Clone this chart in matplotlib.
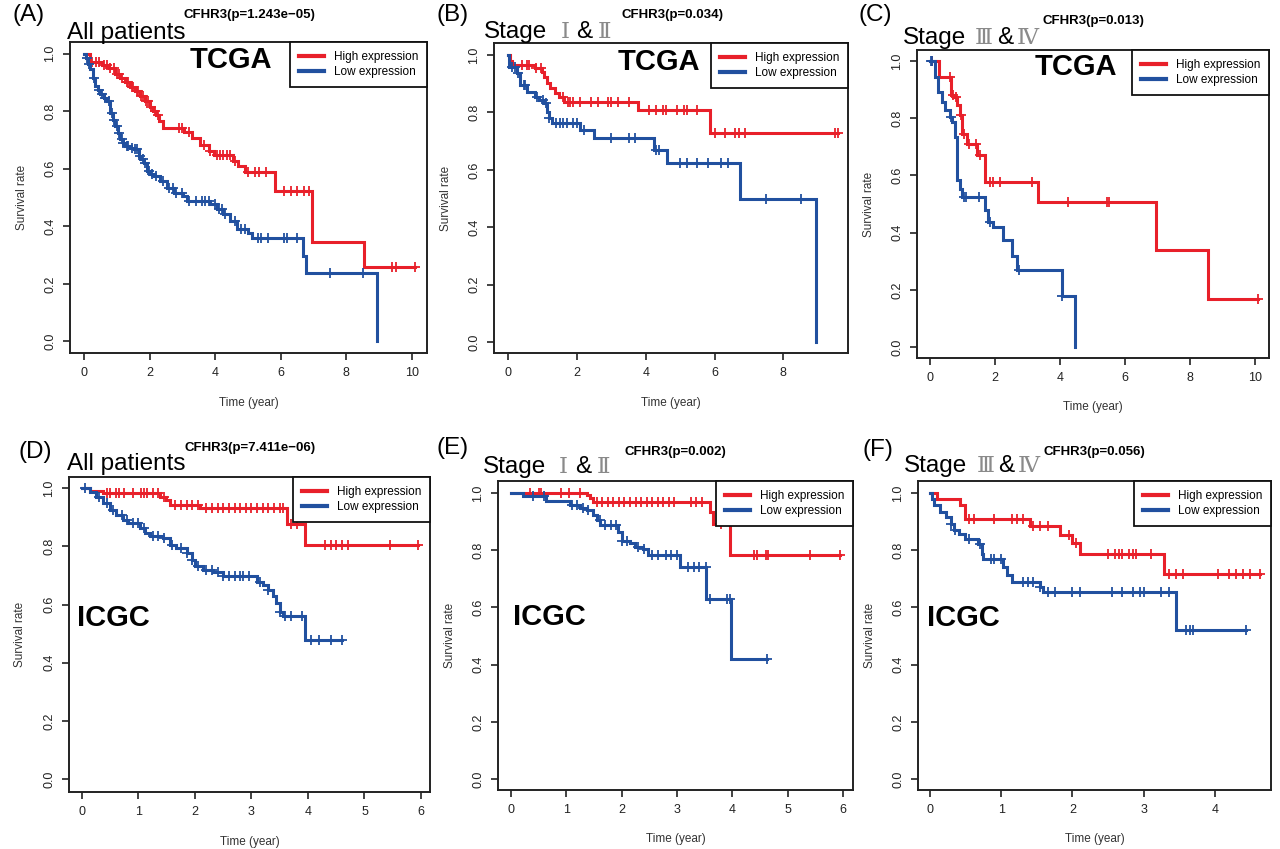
import numpy as np
import matplotlib
matplotlib.use("Agg")
import matplotlib.pyplot as plt
from matplotlib.lines import Line2D

plt.rcParams['font.family'] = ['Liberation Sans', 'DejaVu Sans', 'Noto Sans CJK SC']

RED = '#e8202a'
BLUE = '#21509f'

# ---- (A) TCGA all patients ----
a_high_t = [0, 0.19, 0.55, 0.75, 0.95, 1.1, 1.25, 1.4, 1.55, 1.7, 1.85, 2.0, 2.1, 2.2, 2.3, 2.4,
            3.05, 3.3, 3.55, 3.8, 3.95, 4.55, 4.7, 4.9, 5.83, 6.95, 8.55]
a_high_s = [1.0, 0.97, 0.96, 0.948, 0.93, 0.915, 0.9, 0.885, 0.87, 0.852, 0.835, 0.815, 0.8, 0.785, 0.765, 0.74,
            0.728, 0.707, 0.684, 0.662, 0.648, 0.628, 0.61, 0.588, 0.523, 0.346, 0.26]
a_high_c = [0.25, 0.35, 0.45, 0.6, 0.7, 0.8, 0.9, 1.0, 1.05, 1.15, 1.3, 1.35, 1.45, 1.5, 1.6, 1.65, 1.75, 1.8,
            1.9, 1.95, 2.05, 2.15, 2.25, 2.9, 3.0, 3.2, 3.65, 3.85, 4.05, 4.15, 4.25, 4.35, 4.45, 4.6, 5.0, 5.2,
            5.35, 5.55, 6.1, 6.3, 6.5, 6.7, 6.85, 9.4, 9.5, 10.08]
a_low_t = [0, 0.05, 0.12, 0.19, 0.27, 0.34, 0.42, 0.5, 0.6, 0.7, 0.8, 0.88, 0.95, 1.02, 1.1, 1.18, 1.26, 1.4,
           1.51, 1.66, 1.75, 1.82, 1.92, 2.02, 2.12, 2.32, 2.53, 2.73, 3.03, 3.13, 3.84, 4.05, 4.25, 4.45, 4.66,
           5.0, 5.11, 6.68, 6.78, 8.94]
a_low_s = [1.0, 0.985, 0.965, 0.945, 0.915, 0.887, 0.872, 0.858, 0.845, 0.835, 0.794, 0.77, 0.748, 0.725, 0.702,
           0.69, 0.679, 0.672, 0.667, 0.644, 0.632, 0.621, 0.592, 0.583, 0.575, 0.557, 0.534, 0.517, 0.505, 0.488,
           0.476, 0.459, 0.442, 0.418, 0.39, 0.378, 0.361, 0.297, 0.237, 0.0]
a_low_c = [0.08, 0.15, 0.3, 0.45, 0.55, 0.65, 0.75, 0.85, 0.92, 1.0, 1.05, 1.15, 1.2, 1.3, 1.35, 1.45, 1.55, 1.6,
           1.7, 1.8, 1.87, 1.97, 2.07, 2.2, 2.4, 2.6, 2.7, 2.8, 3.0, 3.2, 3.4, 3.6, 3.7, 3.8, 4.0, 4.1, 4.2, 4.3,
           4.6, 4.8, 4.9, 5.3, 5.4, 5.6, 6.1, 6.2, 6.5, 7.5, 8.5]

# ---- (B) TCGA stage I & II ----
b_high_t = [0, 0.05, 0.12, 0.79, 0.99, 1.03, 1.13, 1.23, 1.37, 1.47, 1.62, 3.79, 5.87]
b_high_s = [1.0, 0.98, 0.965, 0.954, 0.942, 0.925, 0.901, 0.884, 0.867, 0.855, 0.838, 0.809, 0.727]
b_high_c = [0.4, 0.55, 0.6, 0.8, 0.95, 1.6, 1.75, 1.8, 1.9, 2.1, 2.4, 2.6, 2.9, 3.0, 3.2, 3.5, 4.1, 4.3, 4.5,
            4.6, 4.9, 5.1, 5.2, 5.5, 6.0, 6.3, 6.6, 6.7, 6.9, 9.5, 9.6]
b_low_t = [0, 0.02, 0.25, 0.36, 0.55, 0.79, 0.89, 1.03, 1.13, 1.18, 1.28, 2.1, 2.49, 4.23, 4.61, 6.74, 8.95]
b_low_s = [1.0, 0.96, 0.936, 0.896, 0.872, 0.855, 0.843, 0.832, 0.803, 0.78, 0.762, 0.739, 0.71, 0.669, 0.625,
           0.5, 0.0]
b_low_c = [0.1, 0.2, 0.3, 0.45, 0.5, 0.85, 1.0, 1.1, 1.2, 1.4, 1.5, 1.6, 1.7, 1.9, 2.0, 2.2, 3.0, 3.5, 3.7,
           4.3, 4.4, 5.0, 5.2, 5.5, 5.8, 6.2, 6.4, 7.5, 8.5]

# ---- (C) TCGA stage III & IV ----
c_high_t = [0, 0.29, 0.65, 0.72, 0.82, 0.92, 0.97, 1.13, 1.44, 1.69, 3.33, 6.94, 8.54]
c_high_s = [1.0, 0.942, 0.882, 0.874, 0.845, 0.81, 0.746, 0.711, 0.67, 0.576, 0.507, 0.338, 0.169]
c_high_c = [0.05, 0.62, 0.7, 0.8, 0.95, 1.05, 1.2, 1.4, 1.55, 1.85, 1.95, 2.15, 3.15, 4.25, 5.45, 5.5, 10.1]
c_low_t = [0, 0.15, 0.26, 0.36, 0.46, 0.62, 0.67, 0.77, 0.82, 0.92, 0.97, 1.69, 1.79, 1.95, 2.26, 2.51, 2.67,
           4.05, 4.46]
c_low_s = [1.0, 0.944, 0.891, 0.857, 0.827, 0.804, 0.787, 0.734, 0.583, 0.554, 0.524, 0.478, 0.437, 0.42,
           0.373, 0.32, 0.268, 0.177, 0.0]
c_low_c = [0.02, 0.05, 0.65, 1.05, 1.1, 1.5, 1.85, 2.75, 4.05]

# ---- (D) ICGC all patients ----
d_high_t = [0, 0.14, 0.37, 1.38, 1.49, 1.55, 2.09, 3.62, 3.95]
d_high_s = [1.0, 0.991, 0.983, 0.971, 0.96, 0.943, 0.931, 0.878, 0.803]
d_high_c = [0.45, 0.5, 0.6, 0.65, 0.75, 0.9, 1.05, 1.1, 1.15, 1.25, 1.35, 1.45, 1.65, 1.75, 1.85, 1.95, 2.05,
            2.2, 2.3, 2.4, 2.5, 2.6, 2.7, 2.8, 2.9, 3.0, 3.1, 3.2, 3.3, 3.4, 3.5, 3.55, 3.7, 3.8, 4.3, 4.4, 4.5,
            4.6, 4.7, 5.45, 5.95]
d_low_t = [0, 0.14, 0.25, 0.37, 0.49, 0.61, 0.73, 0.82, 1.02, 1.11, 1.2, 1.44, 1.55, 1.67, 1.85, 1.94, 2.0,
           2.14, 2.32, 2.5, 3.09, 3.21, 3.3, 3.38, 3.44, 3.5, 3.56, 3.95]
d_low_s = [1.0, 0.988, 0.971, 0.948, 0.926, 0.908, 0.891, 0.88, 0.863, 0.845, 0.834, 0.828, 0.805, 0.794,
           0.777, 0.754, 0.731, 0.719, 0.71, 0.699, 0.679, 0.668, 0.651, 0.628, 0.605, 0.576, 0.559, 0.477]
d_low_c = [0.05, 0.3, 0.45, 0.55, 0.7, 0.8, 0.9, 1.0, 1.1, 1.25, 1.35, 1.45, 1.6, 1.75, 1.85, 1.95, 2.05, 2.2,
           2.3, 2.4, 2.5, 2.6, 2.7, 2.8, 2.85, 2.95, 3.15, 3.3, 3.5, 3.6, 3.7, 3.9, 4.05, 4.2, 4.4, 4.6]

# ---- (E) ICGC stage I & II ----
e_high_t = [0, 1.37, 1.43, 1.49, 3.59, 3.65, 3.95]
e_high_s = [1.0, 0.992, 0.984, 0.969, 0.934, 0.89, 0.782]
e_high_c = [0.35, 0.5, 0.55, 0.9, 1.05, 1.25, 1.55, 1.65, 1.75, 1.85, 1.95, 2.05, 2.15, 2.25, 2.35, 2.45,
            2.55, 2.65, 2.75, 2.85, 2.95, 3.25, 3.35, 3.45, 3.8, 4.4, 4.45, 4.6, 4.65, 5.4, 5.95]
e_low_t = [0, 0.22, 0.64, 1.06, 1.25, 1.37, 1.49, 1.55, 1.61, 1.94, 2.0, 2.15, 2.24, 2.39, 2.48, 3.05, 3.53,
           3.98]
e_low_s = [1.0, 0.988, 0.972, 0.957, 0.949, 0.939, 0.922, 0.904, 0.887, 0.864, 0.834, 0.825, 0.813, 0.805,
           0.785, 0.741, 0.63, 0.42]
e_low_c = [0.4, 0.6, 1.1, 1.2, 1.3, 1.4, 1.6, 1.7, 1.8, 1.9, 2.0, 2.1, 2.3, 2.4, 2.55, 2.65, 2.8, 2.9, 3.0,
           3.2, 3.3, 3.4, 3.52, 3.6, 3.9, 3.95, 4.62]

# ---- (F) ICGC stage III & IV ----
f_high_t = [0, 0.1, 0.42, 0.49, 1.4, 1.82, 1.99, 2.1, 3.29]
f_high_s = [1.0, 0.978, 0.957, 0.91, 0.883, 0.852, 0.825, 0.788, 0.716]
f_high_c = [0.55, 0.62, 0.9, 1.15, 1.22, 1.3, 1.45, 1.55, 1.65, 1.95, 2.05, 2.5, 2.6, 2.65, 2.7, 2.8, 2.85,
            2.9, 3.1, 3.35, 3.45, 3.55, 4.05, 4.2, 4.3, 4.4, 4.5, 4.63]
f_low_t = [0, 0.02, 0.05, 0.14, 0.23, 0.3, 0.33, 0.4, 0.49, 0.68, 0.73, 0.75, 1.03, 1.08, 1.15, 1.54, 1.58,
           3.45]
f_low_s = [1.0, 0.98, 0.957, 0.934, 0.916, 0.893, 0.869, 0.858, 0.84, 0.823, 0.788, 0.77, 0.741, 0.712, 0.689,
           0.671, 0.654, 0.522]
f_low_c = [0.3, 0.35, 0.55, 0.7, 0.85, 0.9, 1.0, 1.3, 1.38, 1.45, 1.55, 1.65, 1.75, 2.0, 2.1, 2.55, 2.7, 2.85,
           2.95, 3.0, 3.25, 3.35, 3.6, 3.65, 3.7, 4.44]

panel_letters = ['(A)', '(B)', '(C)', '(D)', '(E)', '(F)']
# subgroup titles split into pieces: (text, is_roman_numeral)
stage_12 = [('Stage', False), ('\u2160', True), ('&', False), ('\u2161', True)]
stage_34 = [('Stage', False), ('\u2162', True), ('&', False), ('\u2163', True)]
subgroups = [[('All patients', False)], stage_12, stage_34,
             [('All patients', False)], stage_12, stage_34]
p_labels = ['CFHR3(p=1.243e\u221205)', 'CFHR3(p=0.034)', 'CFHR3(p=0.013)',
            'CFHR3(p=7.411e\u221206)', 'CFHR3(p=0.002)', 'CFHR3(p=0.056)']
cohorts = ['TCGA', 'TCGA', 'TCGA', 'ICGC', 'ICGC', 'ICGC']
legend_labels = ['High expression', 'Low expression']
xticks_list = [[0, 2, 4, 6, 8, 10], [0, 2, 4, 6, 8], [0, 2, 4, 6, 8, 10],
               [0, 1, 2, 3, 4, 5, 6], [0, 1, 2, 3, 4, 5, 6], [0, 1, 2, 3, 4]]

curves = [
    (a_high_t, a_high_s, a_high_c, a_low_t, a_low_s, a_low_c),
    (b_high_t, b_high_s, b_high_c, b_low_t, b_low_s, b_low_c),
    (c_high_t, c_high_s, c_high_c, c_low_t, c_low_s, c_low_c),
    (d_high_t, d_high_s, d_high_c, d_low_t, d_low_s, d_low_c),
    (e_high_t, e_high_s, e_high_c, e_low_t, e_low_s, e_low_c),
    (f_high_t, f_high_s, f_high_c, f_low_t, f_low_s, f_low_c),
]

W, H = 1280, 849
# axes boxes in pixels: left, top, right, bottom
boxes = [(70, 42, 427, 353), (494, 43, 848, 353), (917, 50, 1269, 358),
         (69, 477, 430, 792), (498, 481, 853, 790), (918, 481, 1271, 790)]
xlims = [(-0.43, 10.46), (-0.41, 9.88), (-0.40, 10.43), (-0.23, 6.16), (-0.235, 6.18), (-0.17, 4.79)]
ylims = [(-0.04, 1.04), (-0.038, 1.042), (-0.038, 1.038), (-0.044, 1.038), (-0.038, 1.042), (-0.038, 1.042)]

# text anchors in pixels
letter_pos = [(13, 15), (437, 15), (858, 15), (18, 452), (437, 448), (862, 450)]
group_pos = [(67, 39), (484, 38), (903, 44), (67, 470), (483, 473), (904, 472)]
p_pos = [(249, 18), (672, 18), (1093, 24), (250, 451), (675, 455), (1094, 455)]
cohort_pos = [(231, 60), (659, 62), (1076, 67), (77, 618), (513, 617), (927, 618)]
# pixel gaps before each piece of the subgroup title
gaps_12 = [0, 13, 7, 5]
gaps_34 = [0, 9, 4, 3]
group_gaps = [[0], gaps_12, gaps_34, [0], gaps_12, gaps_34]


def km_line(ax, t, s, cens, color):
    t = list(t)
    s = list(s)
    end = max(t[-1], max(cens))
    if s[-1] > 0:
        t = t + [end]
        s = s + [s[-1]]
    ax.step(t, s, where='post', color=color, lw=2.2, solid_joinstyle='miter')
    idx = np.searchsorted(np.array(t), np.array(cens), side='right') - 1
    cy = np.array(s)[idx]
    ax.plot(cens, cy, ls='none', marker='+', ms=7, mew=1.3, color=color)


fig = plt.figure(figsize=(W / 100, H / 100), dpi=100)
renderer = fig.canvas.get_renderer()

for i in range(6):
    l, t, r, b = boxes[i]
    ax = fig.add_axes([l / W, (H - b) / H, (r - l) / W, (b - t) / H])
    ht, hs, hc, lt, ls, lc = curves[i]
    km_line(ax, ht, hs, hc, RED)
    km_line(ax, lt, ls, lc, BLUE)

    ax.set_xlim(*xlims[i])
    ax.set_ylim(*ylims[i])
    ax.set_xticks(xticks_list[i])
    ax.set_xticklabels([str(v) for v in xticks_list[i]])
    ax.set_yticks([0.0, 0.2, 0.4, 0.6, 0.8, 1.0])
    ax.set_yticklabels(['0.0', '0.2', '0.4', '0.6', '0.8', '1.0'])
    for lab in ax.get_yticklabels():
        lab.set_rotation(90)
        lab.set_va('center')
    ax.tick_params(direction='out', length=5, width=1.2, labelsize=9, colors='#222222', pad=5)
    for sp in ax.spines.values():
        sp.set_linewidth(1.4)
        sp.set_color('#222222')

    ax.set_xlabel('Time (year)', fontsize=8.5, color='#333333')
    ax.set_ylabel('Survival rate', fontsize=8.5, color='#333333')
    ax.xaxis.label.set_va('center')
    ax.yaxis.label.set_va('center')
    ax.xaxis.set_label_coords(0.5, -0.16)
    ax.yaxis.set_label_coords(-0.135, 0.5)

    handles = [Line2D([], [], color=RED, lw=3), Line2D([], [], color=BLUE, lw=3)]
    leg = ax.legend(handles, legend_labels, loc='upper right', borderaxespad=0,
                    fontsize=8.5, handlelength=2.1, handletextpad=0.85, borderpad=0.75,
                    labelspacing=0.28, fancybox=False, framealpha=1, edgecolor='#111111')
    leg.get_frame().set_linewidth(1.3)
    leg.set_zorder(5)

    fig.text(letter_pos[i][0] / W, 1 - letter_pos[i][1] / H, panel_letters[i], fontsize=17.5,
             ha='left', va='center')

    # subgroup title, pieces placed one after another
    x = group_pos[i][0]
    yb = 1 - group_pos[i][1] / H
    for (piece, roman), gap in zip(subgroups[i], group_gaps[i]):
        x += gap
        if roman:
            txt = fig.text(x / W, yb, piece, fontsize=16.5, color='#8a8a8a',
                           family=['DejaVu Serif', 'Noto Sans CJK SC'], ha='left', va='baseline')
        else:
            txt = fig.text(x / W, yb, piece, fontsize=17.5, color='black', ha='left', va='baseline')
        x = txt.get_window_extent(renderer).x1

    fig.text(p_pos[i][0] / W, 1 - p_pos[i][1] / H, p_labels[i], fontsize=9.5, fontweight='bold',
             ha='center', va='baseline')
    if cohorts[i] == 'TCGA':
        fig.text(cohort_pos[i][0] / W, 1 - cohort_pos[i][1] / H, cohorts[i], fontsize=21,
                 fontweight='bold', ha='center', va='center')
    else:
        fig.text(cohort_pos[i][0] / W, 1 - cohort_pos[i][1] / H, cohorts[i], fontsize=21,
                 fontweight='bold', ha='left', va='center')

fig.savefig('out.png', dpi=100, facecolor='white')
